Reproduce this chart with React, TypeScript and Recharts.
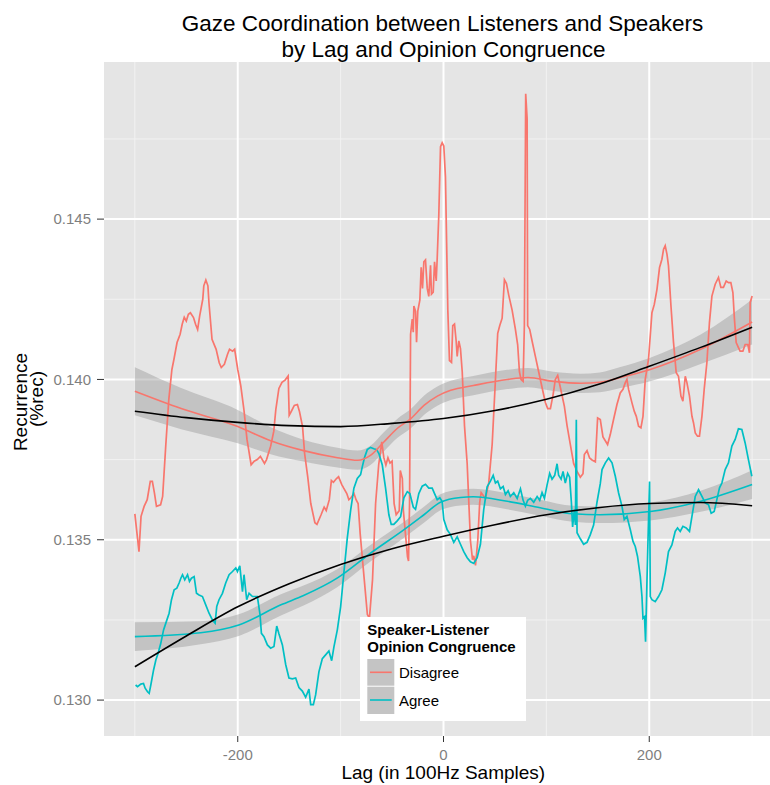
import { ComposedChart, Line, Area, XAxis, YAxis, CartesianGrid } from 'recharts';

// raw recurrence by lag
const disagreeRaw: [number, number][] = [
  [-300, 0.13581], [-296, 0.13463], [-294, 0.13573], [-291, 0.13604], [-288, 0.13625], [-285, 0.13682],
  [-283, 0.13682], [-281, 0.13646], [-279, 0.13604], [-275, 0.13609], [-273, 0.13635], [-270, 0.13792],
  [-267, 0.13938], [-264, 0.14031], [-262, 0.14063], [-259, 0.14115], [-256, 0.14141], [-254, 0.14172],
  [-252, 0.14194], [-250, 0.14182], [-248, 0.14203], [-246, 0.14208], [-243, 0.14193], [-241, 0.14172],
  [-239, 0.14156], [-237, 0.14198], [-234, 0.1425], [-233, 0.14292], [-231, 0.1431], [-229, 0.14292],
  [-228, 0.1424], [-225, 0.14125], [-221, 0.14094], [-218, 0.14052], [-216, 0.14037], [-213, 0.14047],
  [-210, 0.14078], [-208, 0.14094], [-205, 0.14088], [-203, 0.14094], [-200, 0.14031], [-197, 0.13979],
  [-194, 0.13906], [-191, 0.13813], [-187, 0.13734], [-184, 0.13745], [-181, 0.1375], [-178, 0.1376],
  [-174, 0.13738], [-172, 0.1375], [-168, 0.13792], [-165, 0.13838], [-163, 0.13906], [-160, 0.13972],
  [-157, 0.13991], [-154, 0.13998], [-151, 0.14011], [-150, 0.13888], [-148, 0.139], [-145, 0.13919],
  [-142, 0.13922], [-140, 0.139], [-137, 0.13853], [-135, 0.13769], [-132, 0.13697], [-129, 0.13613],
  [-125, 0.13553], [-123, 0.13548], [-119, 0.13578], [-116, 0.13602], [-114, 0.13591], [-111, 0.13625],
  [-109, 0.13685], [-107, 0.13679], [-104, 0.13691], [-102, 0.13697], [-99, 0.13673], [-97, 0.13661],
  [-94, 0.13644], [-92, 0.13625], [-90, 0.13631], [-87, 0.13644], [-85, 0.13625], [-83, 0.13613],
  [-81, 0.13519], [-77, 0.13375], [-74, 0.13267], [-72, 0.13255], [-69, 0.13375], [-66, 0.13613],
  [-63, 0.13734], [-60, 0.13805], [-58, 0.13756], [-56, 0.13733], [-54, 0.13756], [-52, 0.13739],
  [-50, 0.13745], [-48, 0.13613], [-46, 0.13578], [-43, 0.13591], [-42, 0.13716], [-40, 0.13691],
  [-39, 0.13591], [-37, 0.13519], [-35, 0.13447], [-34, 0.13434], [-33, 0.13613], [-32, 0.14141],
  [-30.4, 0.14188], [-29.4, 0.14147], [-28.8, 0.14229], [-27.2, 0.14213], [-26.2, 0.14116], [-25, 0.14213],
  [-23, 0.14247], [-21.7, 0.1435], [-20.4, 0.14284], [-19.1, 0.14367], [-17.5, 0.14373], [-15.8, 0.14284],
  [-14.3, 0.14259], [-12.6, 0.14356], [-11.7, 0.14266], [-10, 0.14272], [-8.7, 0.14367], [-7.1, 0.14307],
  [-6.1, 0.14379], [-4.6, 0.1451], [-2.9, 0.14726], [-1.3, 0.14738], [0.3, 0.14728], [1.9, 0.14631],
  [4.2, 0.14216], [5.8, 0.14059], [7.8, 0.14053], [9, 0.14168], [10.7, 0.14173], [12.3, 0.1412],
  [13.3, 0.14072], [14.9, 0.1412], [16.5, 0.14096], [18.2, 0.14024], [20.4, 0.13856], [23, 0.13738],
  [26.2, 0.13497], [28.2, 0.13438], [29.4, 0.1345], [31.1, 0.1342], [33.3, 0.13497], [35.2, 0.13617],
  [36.6, 0.13647], [40.8, 0.13629], [44, 0.13678], [47.3, 0.13797], [50.5, 0.14], [52.7, 0.14144],
  [54.7, 0.14168], [57, 0.14191], [59.2, 0.14311], [61.2, 0.14299], [63.4, 0.14263], [66.7, 0.14216],
  [69.9, 0.14156], [72.1, 0.14108], [73.8, 0.14024], [75.4, 0.14], [77.4, 0.13994], [78.6, 0.14168],
  [79.9, 0.14891], [81.3, 0.14813], [81.8, 0.14168], [83.8, 0.14156], [86.1, 0.1412], [89.3, 0.14072],
  [92.5, 0.14024], [95.8, 0.13975], [99, 0.13928], [101.3, 0.13909], [103.9, 0.13909], [106.5, 0.13952],
  [108.7, 0.14], [111, 0.14013], [113.6, 0.13975], [117.5, 0.13916], [120.1, 0.13856], [123.3, 0.13797],
  [126.5, 0.13738], [129.8, 0.13713], [133, 0.13695], [135.6, 0.13706], [136.9, 0.13766], [139.5, 0.13778],
  [142, 0.13755], [144.4, 0.13749], [147.6, 0.13743], [149.8, 0.1388], [152.4, 0.13875], [155, 0.13821],
  [159.5, 0.13797], [162.1, 0.13828], [165.3, 0.13875], [168.6, 0.13922], [171.8, 0.13958], [174.5, 0.13969],
  [176.7, 0.1399], [178.3, 0.14], [179.9, 0.13969], [183.2, 0.13927], [185.4, 0.13901], [187.4, 0.13885],
  [189.6, 0.13854], [191.9, 0.13849], [193.9, 0.13885], [196.1, 0.14], [199.3, 0.14063], [202.6, 0.14208],
  [204.9, 0.14234], [207.5, 0.14281], [210, 0.14349], [212.3, 0.14375], [213.9, 0.14406], [215.5, 0.14417],
  [217.2, 0.14391], [218.7, 0.14354], [221.1, 0.14229], [223.6, 0.14115], [226.2, 0.14021], [228.4, 0.1401],
  [230.8, 0.13948], [232.7, 0.13932], [235, 0.1401], [236.6, 0.1399], [239.1, 0.13948], [241.5, 0.13885],
  [243, 0.13865], [244.7, 0.13833], [246.9, 0.13823], [248.8, 0.13823], [251.2, 0.13885], [253.4, 0.13969],
  [256, 0.14052], [258.5, 0.14177], [260.9, 0.1426], [264.1, 0.14297], [267.3, 0.14318], [269.6, 0.14287],
  [272.1, 0.14287], [274.8, 0.14307], [277, 0.14302], [279.3, 0.14302], [281.3, 0.14271], [282.8, 0.14188],
  [284.5, 0.14115], [286.7, 0.14099], [288.3, 0.14088], [291, 0.14088], [293.2, 0.14109], [295.8, 0.14109],
  [297.4, 0.14083], [298.1, 0.1424], [300, 0.1426],
];

const agreeRaw: [number, number][] = [
  [-299.3, 0.13047], [-297.4, 0.13042], [-294.2, 0.1305], [-291.6, 0.13052], [-290, 0.13037], [-287.7, 0.13026],
  [-286.1, 0.13021], [-284.5, 0.13047], [-281.8, 0.13094], [-279.6, 0.13125], [-277.4, 0.13146], [-274.8, 0.13177],
  [-272.1, 0.13219], [-269.9, 0.1324], [-266.7, 0.13271], [-264.4, 0.13313], [-261.8, 0.13344], [-259.2, 0.13349],
  [-257, 0.13365], [-255.3, 0.1338], [-253.7, 0.13391], [-251.5, 0.13375], [-248.8, 0.13391], [-246.9, 0.1337],
  [-245, 0.1338], [-242.4, 0.13385], [-240.1, 0.13333], [-237.6, 0.13328], [-234.3, 0.13323], [-231.1, 0.13297],
  [-227.9, 0.13271], [-224.6, 0.1325], [-222, 0.1324], [-220.4, 0.13292], [-218.2, 0.13313], [-214.9, 0.13333],
  [-211.7, 0.13365], [-208.4, 0.13391], [-205.1, 0.13401], [-201.9, 0.13412], [-200.3, 0.13401], [-198, 0.13419],
  [-195.4, 0.13338], [-193.9, 0.13391], [-191.3, 0.13313], [-189, 0.13333], [-185.7, 0.13323], [-180.9, 0.13323],
  [-178.3, 0.13266], [-177, 0.13208], [-174.5, 0.13198], [-171.2, 0.13172], [-168, 0.13162], [-164.8, 0.13167],
  [-162.1, 0.13231], [-159.9, 0.13206], [-156.6, 0.13172], [-153.4, 0.13111], [-150.2, 0.13069], [-146.9, 0.13066],
  [-143.7, 0.13069], [-140.5, 0.13039], [-137.2, 0.13028], [-134, 0.13009], [-130.8, 0.13034], [-129.1, 0.12986],
  [-126.5, 0.12986], [-124.3, 0.13016], [-121.1, 0.13088], [-117.8, 0.13129], [-114.6, 0.13141], [-111.4, 0.13153],
  [-108.7, 0.13123], [-106.5, 0.13166], [-103.2, 0.13219], [-100, 0.13291], [-96.8, 0.13398], [-93.5, 0.13506],
  [-90.3, 0.13591], [-87.1, 0.13661], [-83.8, 0.13691], [-80.6, 0.13703], [-78.9, 0.13728], [-76.7, 0.13757],
  [-74.1, 0.13781], [-70.9, 0.13788], [-67.7, 0.13784], [-65, 0.13781], [-62.8, 0.13769], [-59.5, 0.13733],
  [-56.3, 0.13661], [-53.1, 0.13578], [-50.8, 0.13548], [-48.3, 0.13548], [-45, 0.13559], [-41.7, 0.13572],
  [-38.5, 0.13631], [-35.2, 0.1365], [-32.7, 0.13644], [-29.4, 0.13602], [-27.2, 0.13595], [-24, 0.13644],
  [-20.7, 0.13667], [-17.5, 0.13673], [-14.3, 0.13661], [-11, 0.13661], [-8.7, 0.13644], [-6.1, 0.13625],
  [-3.6, 0.13631], [-1.3, 0.13619], [0.3, 0.13563], [3.6, 0.13531], [6.8, 0.13516], [10, 0.13492],
  [13.3, 0.13509], [16.5, 0.13486], [19.7, 0.13463], [23, 0.13444], [26.2, 0.13431], [29.4, 0.13426],
  [32.7, 0.13444], [35.9, 0.13486], [39.1, 0.13594], [42.4, 0.13665], [45.6, 0.13683], [48.3, 0.13701],
  [50.5, 0.13677], [52.7, 0.13683], [55.3, 0.13659], [58, 0.13666], [60.2, 0.13641], [62.8, 0.13653],
  [65, 0.13635], [68.3, 0.13647], [71.6, 0.13629], [74.8, 0.13659], [77.4, 0.13623], [79.6, 0.13605],
  [81.8, 0.13623], [84.5, 0.13629], [87.7, 0.13617], [91, 0.13635], [93.5, 0.13623], [95.8, 0.13647],
  [98.1, 0.13629], [100.7, 0.13671], [103.2, 0.13707], [105.5, 0.13689], [108.1, 0.13701], [110.4, 0.13737],
  [111.9, 0.13701], [114.3, 0.13689], [116.2, 0.13713], [118.4, 0.13677], [120.7, 0.13707], [122.6, 0.13695],
  [124.3, 0.13617], [125.5, 0.1354], [127.2, 0.13594], [128.2, 0.13546], [129.1, 0.13874], [129.8, 0.13522],
  [133, 0.13503], [136.2, 0.13486], [139.5, 0.13492], [142.7, 0.13516], [145.9, 0.13546], [149.2, 0.13617],
  [152.4, 0.13675], [154.1, 0.13719], [157.3, 0.1374], [160.5, 0.13755], [163.8, 0.1374], [167, 0.13698],
  [170.2, 0.13646], [173.5, 0.13604], [175.7, 0.13563], [178.3, 0.13573], [181.6, 0.13531], [184.2, 0.13495],
  [186.4, 0.13479], [188.6, 0.13448], [191.3, 0.13385], [192.9, 0.13323], [193.9, 0.13255], [195.4, 0.1326],
  [196.4, 0.13182], [197.8, 0.13375], [199.3, 0.13563], [200.3, 0.13682], [201, 0.13323], [202.6, 0.13313],
  [205.8, 0.13307], [209, 0.13323], [212.3, 0.13344], [215.5, 0.13396], [218.7, 0.13463], [222, 0.13484],
  [225.2, 0.13526], [227.5, 0.13537], [230.1, 0.13526], [232.7, 0.13542], [235.9, 0.13537], [239.1, 0.13526],
  [241.5, 0.13573], [244.7, 0.13635], [247.9, 0.13656], [251.2, 0.13635], [254.4, 0.13615], [257.6, 0.13609],
  [260.2, 0.13583], [263.1, 0.13588], [265.7, 0.13625], [268.3, 0.13662], [270.6, 0.13677], [273.8, 0.13719],
  [277, 0.1374], [280.3, 0.13792], [283.5, 0.13813], [286.7, 0.13846], [290, 0.13844], [293.2, 0.13802],
  [296.4, 0.1375], [299.7, 0.13698],
];

// loess smooth: [lag, fit, half-width of the grey band]
const disagreeSmooth: [number, number, number][] = [
  [-300, 0.13963, 0.00075], [-255, 0.13909, 0.00064], [-200, 0.13853, 0.00052], [-168, 0.13809, 0.00042],
  [-136, 0.13778, 0.00034], [-103, 0.13756, 0.00031], [-83.5, 0.13748, 0.0003], [-71, 0.13763, 0.0003],
  [-58, 0.13805, 0.0003], [-45, 0.13847, 0.0003], [-32, 0.13877, 0.0003], [-19, 0.13919, 0.0003],
  [-6, 0.13948, 0.0003], [7, 0.13966, 0.0003], [29, 0.13981, 0.0003], [62, 0.14, 0.0003],
  [82, 0.14006, 0.0003], [107, 0.13994, 0.0003], [133, 0.13988, 0.0003], [152, 0.13991, 0.00031],
  [172, 0.14006, 0.00033], [201, 0.14031, 0.00037], [250, 0.14094, 0.00046], [300, 0.14179, 0.0007],
];

const agreeSmooth: [number, number, number][] = [
  [-300, 0.13198, 0.00045], [-236, 0.1321, 0.00036], [-199, 0.13234, 0.00034], [-158, 0.13297, 0.00033],
  [-136, 0.13326, 0.00031], [-103, 0.13381, 0.00028], [-71, 0.13458, 0.00026], [-39, 0.1353, 0.00025],
  [-19, 0.13578, 0.00025], [-3, 0.13617, 0.00025], [16.5, 0.13632, 0.00025], [29, 0.13634, 0.00025],
  [62, 0.1362, 0.00025], [94, 0.136, 0.00025], [126, 0.13581, 0.00025], [152, 0.13578, 0.00026],
  [201, 0.13588, 0.00028], [250, 0.1362, 0.00033], [300, 0.13672, 0.00045],
];

// black polynomial fits
const fitLags = [-300, -250, -200, -150, -100, -50, 0, 50, 100, 150, 200, 250, 300];
const disagreeFit = [0.13901, 0.13881, 0.13866, 0.13856, 0.13853, 0.13863, 0.13878, 0.13903, 0.13938, 0.13984, 0.14041, 0.141, 0.14163];
const agreeFit = [0.13104, 0.132, 0.13291, 0.13363, 0.13423, 0.13472, 0.13511, 0.13547, 0.13578, 0.136, 0.13613, 0.13616, 0.13606];

const xTicks = [-200, 0, 200];
const xMinor = [-300, -100, 100, 300];
const yTicks = [0.13, 0.135, 0.14, 0.145];
const yMinor = [0.1325, 0.1375, 0.1425, 0.1475];

const RED = '#F8766D';
const TEAL = '#00BFC4';
const FONT = '"Liberation Sans", Arial, Helvetica, sans-serif';
const PLOT_BOTTOM = 736;

const toPts = (rows: [number, number][]) => rows.map(([x, y]) => ({ x, y }));
const toBand = (rows: [number, number, number][]) =>
  rows.map(([x, y, h]) => ({ x, y, range: [y - h, y + h] }));
const toFit = (vals: number[]) => vals.map((y, i) => ({ x: fitLags[i], y }));

const XTick = ({ x, payload }: any) => (
  <g>
    <line x1={x} x2={x} y1={PLOT_BOTTOM} y2={PLOT_BOTTOM + 6} stroke="#333" strokeWidth={1} />
    <text x={x} y={PLOT_BOTTOM + 23.5} textAnchor="middle" fontSize={15} fill="#7F7F7F" fontFamily={FONT}>
      {payload.value}
    </text>
  </g>
);

const YTick = ({ y, payload }: any) => (
  <g>
    <line x1={97} x2={104} y1={y} y2={y} stroke="#333" strokeWidth={1} />
    <text x={91} y={y + 5.3} textAnchor="end" fontSize={15} fill="#7F7F7F" fontFamily={FONT}>
      {Number(payload.value).toFixed(3)}
    </text>
  </g>
);

export default function App() {
  const disagreeBand = toBand(disagreeSmooth);
  const agreeBand = toBand(agreeSmooth);

  return (
    <div style={{ position: 'absolute', left: 0, top: 0, width: 770, height: 785, overflow: 'hidden', background: '#fff' }}>
      <ComposedChart width={800} height={785} margin={{ top: 62, right: 17, bottom: 0, left: 0 }}>
        <CartesianGrid
          horizontalValues={yMinor}
          verticalValues={xMinor}
          stroke="#F2F2F2"
          strokeWidth={1}
          fill="#E5E5E5"
          fillOpacity={1}
        />
        <CartesianGrid horizontalValues={yTicks} verticalValues={xTicks} stroke="#FFFFFF" strokeWidth={2} />
        <XAxis
          type="number"
          dataKey="x"
          domain={[-330, 330]}
          ticks={xTicks}
          interval={0}
          allowDataOverflow
          height={49}
          axisLine={false}
          tickLine={false}
          tick={XTick}
        />
        <YAxis
          type="number"
          domain={[0.12888, 0.1499]}
          ticks={yTicks}
          interval={0}
          allowDataOverflow
          width={104}
          axisLine={false}
          tickLine={false}
          tick={YTick}
        />
        <Line data={toPts(disagreeRaw)} dataKey="y" type="linear" stroke={RED} strokeWidth={1.7} dot={false} activeDot={false} isAnimationActive={false} />
        <Line data={toPts(agreeRaw)} dataKey="y" type="linear" stroke={TEAL} strokeWidth={1.7} dot={false} activeDot={false} isAnimationActive={false} />
        <Area data={disagreeBand} dataKey="range" type="monotone" stroke="none" fill="#999999" fillOpacity={0.45} isAnimationActive={false} />
        <Area data={agreeBand} dataKey="range" type="monotone" stroke="none" fill="#999999" fillOpacity={0.45} isAnimationActive={false} />
        <Line data={disagreeBand} dataKey="y" type="monotone" stroke={RED} strokeWidth={1.6} dot={false} activeDot={false} isAnimationActive={false} />
        <Line data={agreeBand} dataKey="y" type="monotone" stroke={TEAL} strokeWidth={1.6} dot={false} activeDot={false} isAnimationActive={false} />
        <Line data={toFit(disagreeFit)} dataKey="y" type="monotone" stroke="#000" strokeWidth={1.6} dot={false} activeDot={false} isAnimationActive={false} />
        <Line data={toFit(agreeFit)} dataKey="y" type="monotone" stroke="#000" strokeWidth={1.6} dot={false} activeDot={false} isAnimationActive={false} />
      </ComposedChart>

      <svg width={770} height={785} style={{ position: 'absolute', left: 0, top: 0, pointerEvents: 'none' }} fontFamily={FONT}>
        <text x={442.5} y={31} textAnchor="middle" fontSize={22.5} fill="#000">
          Gaze Coordination between Listeners and Speakers
        </text>
        <text x={443.5} y={56.5} textAnchor="middle" fontSize={22.5} fill="#000">
          by Lag and Opinion Congruence
        </text>
        <text x={443.3} y={779.3} textAnchor="middle" fontSize={19} fill="#000">
          Lag (in 100Hz Samples)
        </text>
        <text transform="translate(26.7,402) rotate(-90)" textAnchor="middle" fontSize={19} fill="#000">
          Recurrence
        </text>
        <text transform="translate(43,399) rotate(-90)" textAnchor="middle" fontSize={19} fill="#000">
          (%rec)
        </text>

        <rect x={360} y={617} width={166} height={104} fill="#FFFFFF" />
        <text x={367.3} y={635} fontSize={15} fontWeight="bold" fill="#000">Speaker-Listener</text>
        <text x={367.3} y={652.2} fontSize={15} fontWeight="bold" fill="#000">Opinion Congruence</text>
        <rect x={367.3} y={659} width={27} height={26.7} fill="#C4C4C4" />
        <rect x={367.3} y={686.7} width={27} height={27.3} fill="#C4C4C4" />
        <line x1={370} x2={391.7} y1={672.3} y2={672.3} stroke={RED} strokeWidth={1.6} />
        <line x1={370} x2={391.7} y1={700} y2={700} stroke={TEAL} strokeWidth={1.6} />
        <text x={399} y={678.3} fontSize={15} fill="#000">Disagree</text>
        <text x={399} y={706} fontSize={15} fill="#000">Agree</text>
      </svg>
    </div>
  );
}
